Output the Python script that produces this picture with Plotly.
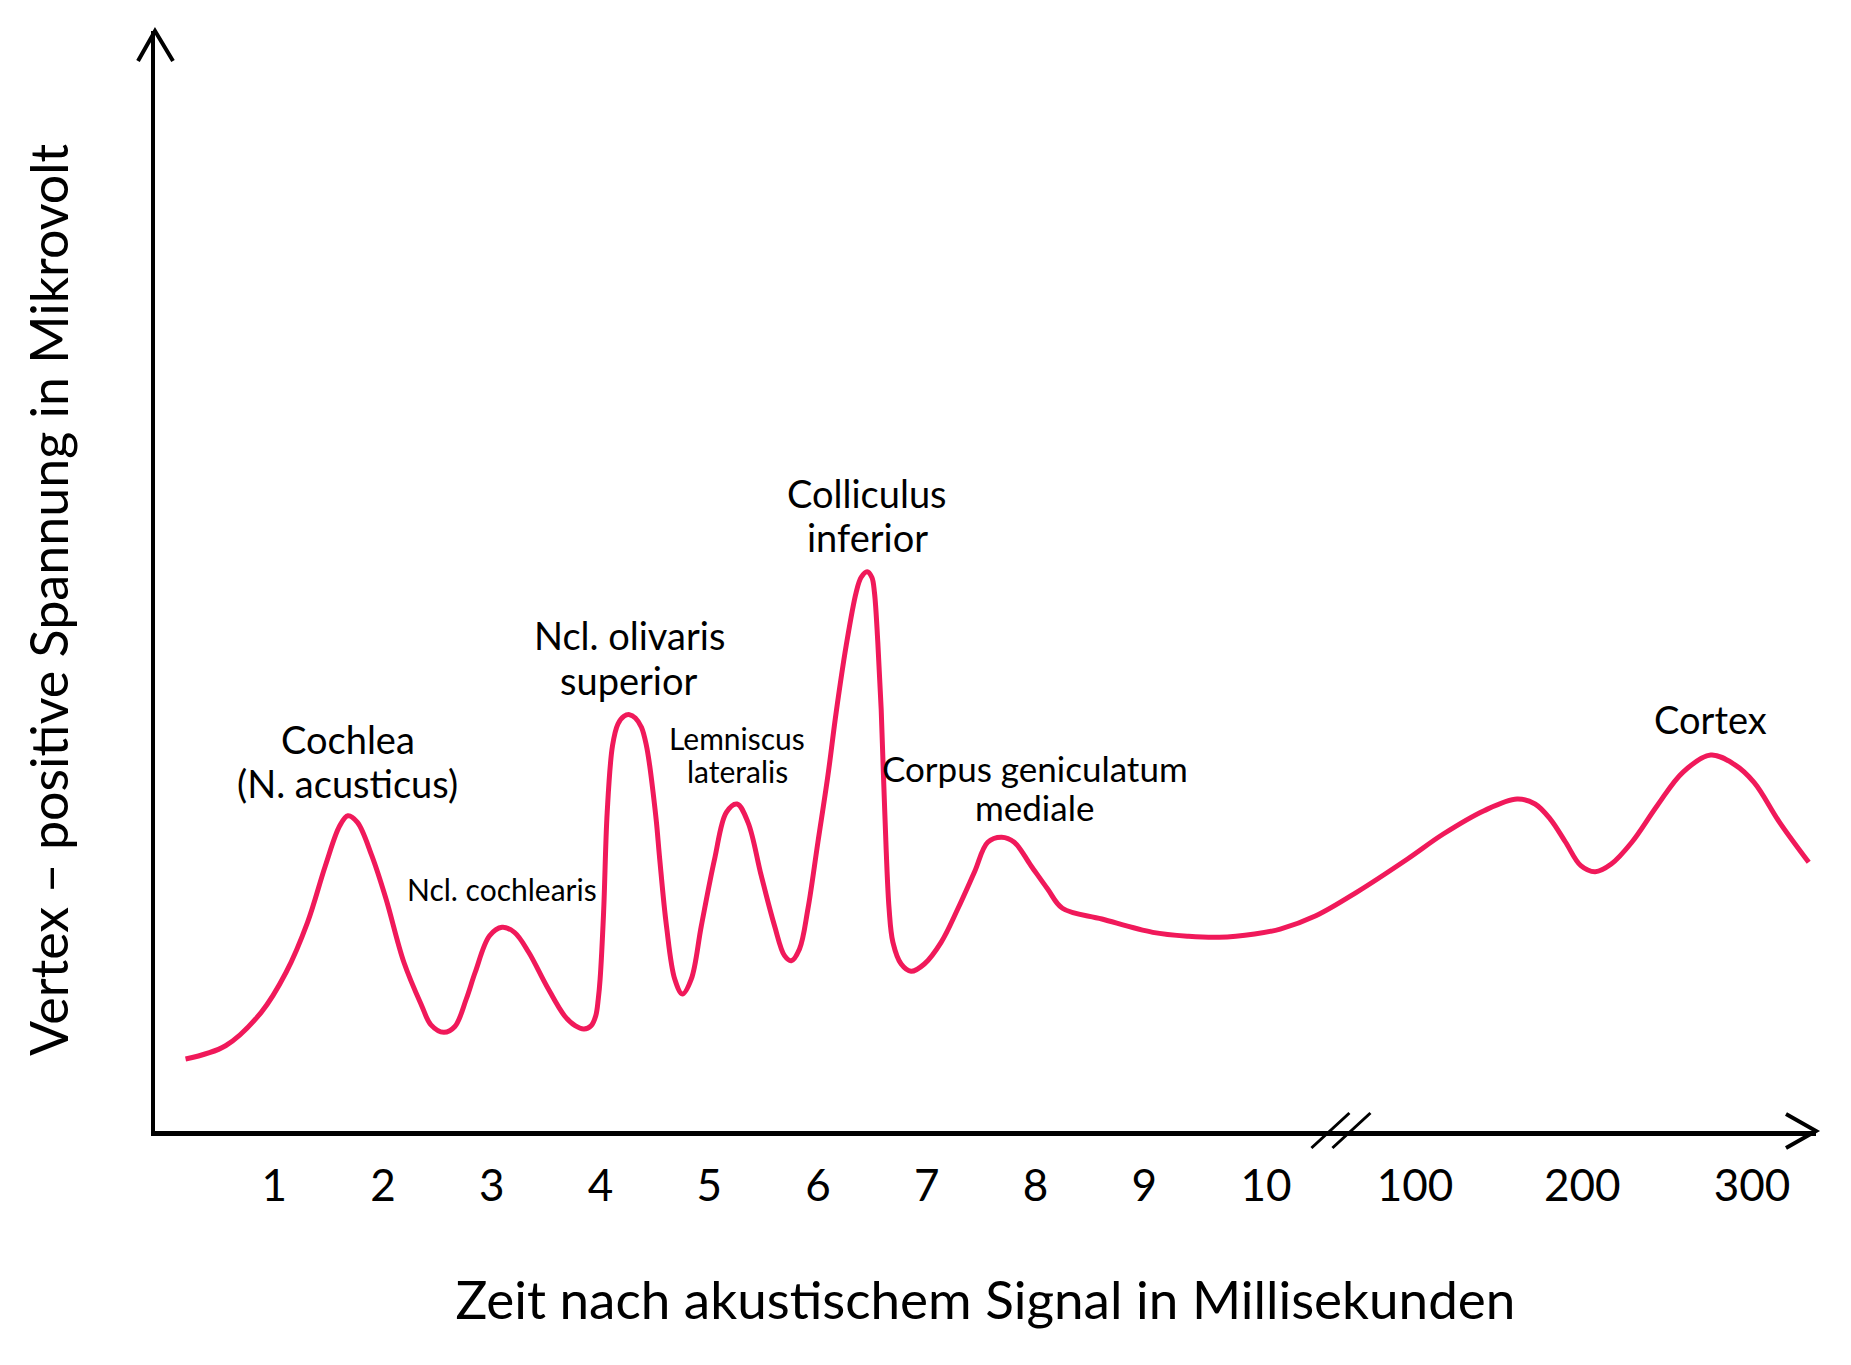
import plotly.graph_objects as go

# ---------------- data ----------------
# x axis positions: 1..10 ms (linear), then an axis break and 100 / 200 / 300 ms
tick_vals = [1, 2, 3, 4, 5, 6, 7, 8, 9, 10.12, 11.49, 13.03, 14.59]
tick_text = ["1", "2", "3", "4", "5", "6", "7", "8", "9", "10", "100", "200", "300"]

# potential curve (axis position, relative positive voltage)
curve_x = [0.183, 0.551, 0.879, 1.108, 1.305, 1.469, 1.601, 1.676, 1.764, 1.896,
           2.027, 2.191, 2.355, 2.440, 2.558, 2.660, 2.765, 2.847,
           2.979, 3.094, 3.208, 3.339, 3.503, 3.668, 3.766, 3.848, 3.913, 3.956,
           3.979, 3.996, 4.028, 4.061, 4.110, 4.160, 4.215, 4.266, 4.320, 4.376,
           4.422, 4.452, 4.483, 4.514, 4.544, 4.606, 4.682, 4.753, 4.835,
           4.927, 5.049, 5.157, 5.255, 5.356, 5.478, 5.600, 5.692, 5.754,
           5.830, 5.907, 5.999, 6.091, 6.167, 6.259, 6.351,
           6.397, 6.452, 6.495, 6.519, 6.550, 6.581, 6.613,
           6.654, 6.689, 6.765, 6.856, 6.978, 7.132, 7.285, 7.438, 7.561,
           7.689, 7.805, 7.959, 8.112, 8.248, 8.611, 9.079, 9.408, 9.689, 10.016,
           10.251, 10.579, 10.953, 11.422, 11.751, 12.126, 12.430, 12.595, 12.735, 12.876,
           13.016, 13.148, 13.296, 13.485, 13.718, 13.954, 14.211, 14.423, 14.609, 14.844,
           15.112]
curve_y = [0.655, 0.775, 1.079, 1.443, 1.897, 2.412, 2.775, 2.866, 2.806, 2.503,
           2.109, 1.534, 1.139, 0.965, 0.897, 0.950, 1.200, 1.443,
           1.775, 1.852, 1.806, 1.625, 1.321, 1.048, 0.957, 0.927, 0.957, 1.048,
           1.200, 1.382, 1.988, 2.897, 3.503, 3.700, 3.770, 3.785, 3.755, 3.670,
           3.503, 3.321, 3.079, 2.806, 2.473, 1.866, 1.382, 1.245, 1.382,
           1.866, 2.473, 2.897, 2.973, 2.806, 2.321, 1.866, 1.594, 1.548,
           1.655, 2.018, 2.625, 3.230, 3.806, 4.412, 4.897,
           5.034, 5.085, 5.034, 4.897, 4.443, 3.836, 2.927,
           2.018, 1.715, 1.518, 1.452, 1.518, 1.715, 2.018, 2.352, 2.625,
           2.670, 2.625, 2.412, 2.200, 2.025, 1.927, 1.806, 1.770, 1.761, 1.791,
           1.836, 1.957, 2.170, 2.473, 2.700, 2.912, 3.018, 2.973, 2.836, 2.625,
           2.412, 2.357, 2.427, 2.625, 2.957, 3.261, 3.418, 3.336, 3.170, 2.806,
           2.443]

# labelled peaks (lines of each label)
peak_names = [["Cochlea", "(N. acusticus)"], ["Ncl. cochlearis"],
              ["Ncl. olivaris", "superior"], ["Lemniscus", "lateralis"],
              ["Colliculus", "inferior"], ["Corpus geniculatum", "mediale"], ["Cortex"]]
peak_x = [1.676, 3.094, 4.266, 5.255, 6.452, 7.689, 14.211]
peak_y = [2.866, 1.852, 3.785, 2.973, 5.085, 2.670, 3.418]

x_title = "Zeit nach akustischem Signal in Millisekunden"
y_title = "Vertex – positive Spannung in Mikrovolt"

# ---------------- style ----------------
FONT = "Lato, 'Open Sans', sans-serif"
CURVE = "#F0195A"
label_size = [38, 30, 38, 30, 38, 35, 38]
label_yshift = [8, 18, 10, 13, 10, 7, 11]
label_xshift = [0, 0, 0, 0, 0, 33, 0]
label_linegap = [44, 0, 45, 33, 44, 39, 0]

fig = go.Figure()
fig.add_trace(go.Scatter(
    x=curve_x, y=curve_y, mode="lines",
    line=dict(color=CURVE, width=5, shape="spline", smoothing=1.0),
    hoverinfo="skip", showlegend=False,
))

for lines, px, py, fs, dy, dx, gap in zip(peak_names, peak_x, peak_y, label_size,
                                          label_yshift, label_xshift, label_linegap):
    n = len(lines)
    for i, line in enumerate(lines):
        fig.add_annotation(x=px, y=py, text=line, showarrow=False,
                           xanchor="center", yanchor="bottom",
                           yshift=dy + (n - 1 - i) * gap, xshift=dx,
                           font=dict(family=FONT, size=fs, color="black"))

# y axis title (rotated text left of the axis)
fig.add_annotation(xref="paper", yref="paper", x=0, y=0.4827, xshift=-107,
                   text=y_title, textangle=-90, showarrow=False,
                   xanchor="center", yanchor="middle",
                   font=dict(family=FONT, size=52, color="black"))

# arrow heads (open chevrons) at the ends of both axes
fig.add_shape(type="path", xref="x domain", yref="y domain",
              xsizemode="pixel", ysizemode="pixel", xanchor=0, yanchor=1,
              path="M -17,-30 L 0,0 L 18,-30",
              line=dict(color="black", width=4))
fig.add_shape(type="path", xref="x domain", yref="y domain",
              xsizemode="pixel", ysizemode="pixel", xanchor=1, yanchor=0,
              path="M -30,17 L 0,0 L -30,-17",
              line=dict(color="black", width=4))
# axis break marks between 10 and 100
break_at = (tick_vals[9] + tick_vals[10]) / 2
fig.add_shape(type="path", xref="x", yref="y domain",
              xsizemode="pixel", ysizemode="pixel", xanchor=break_at, yanchor=0,
              path="M -29,-17 L 9,18 M -8,-17 L 30,18",
              line=dict(color="black", width=3))

fig.update_layout(
    width=1835, height=1349,
    margin=dict(l=147, r=27, t=23, b=226),
    paper_bgcolor="white", plot_bgcolor="white",
    font=dict(family=FONT, color="black"),
    showlegend=False,
)
fig.update_xaxes(
    range=[-0.098, 15.179], showgrid=False, zeroline=False,
    showline=True, linecolor="black", linewidth=4.5,
    tickvals=tick_vals, ticktext=tick_text, ticks="",
    ticklabelstandoff=12,
    tickfont=dict(family=FONT, size=44, color="black"),
    title=dict(text=x_title, font=dict(family=FONT, size=53, color="black"), standoff=75),
    automargin=False,
)
fig.update_yaxes(
    range=[0, 10], showgrid=False, zeroline=False,
    showline=True, linecolor="black", linewidth=4,
    showticklabels=False, ticks="",
    automargin=False,
)

fig.write_html("out.html")
